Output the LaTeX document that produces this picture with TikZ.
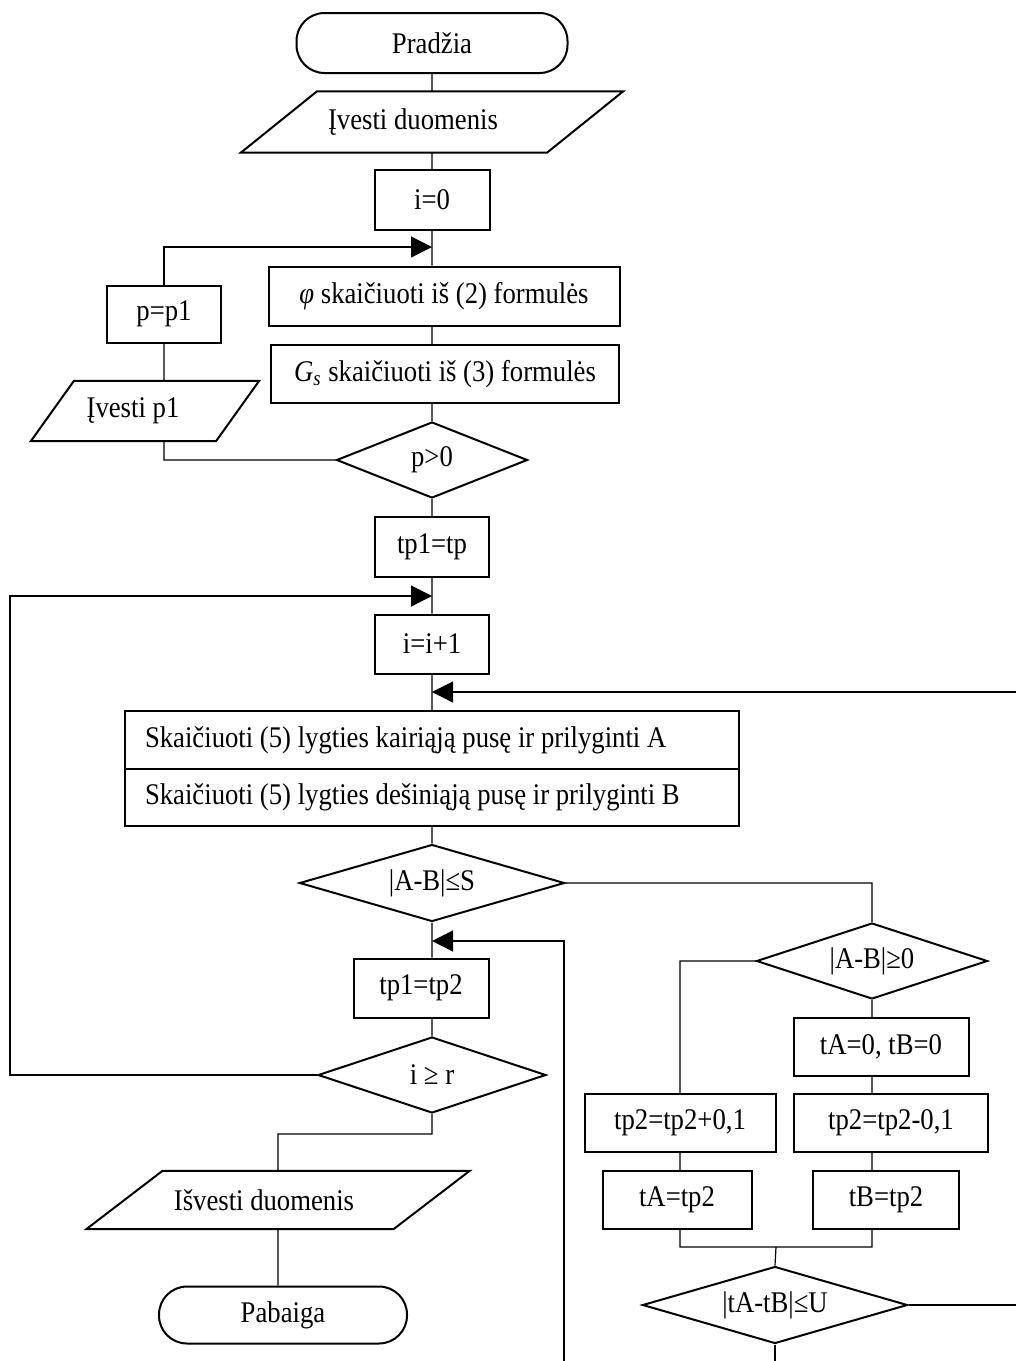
\documentclass[tikz,border=0pt]{standalone}
\usepackage{fontspec}
\setmainfont{Liberation Serif}[FakeStretch=0.89]
\usetikzlibrary{shapes.geometric, arrows.meta}
\tikzset{every picture/.style={line width=0.6pt}}

\begin{document}
\begin{tikzpicture}[x=0.5pt, y=-0.5pt, font=\fontsize{15}{18}\selectfont,
        box/.style={draw, line width=1pt, inner sep=2pt},
        term/.style={box, rounded corners=14pt},
        dec/.style={box, diamond, aspect=3.4, inner sep=0pt},
        io/.style={inner sep=0pt},
        arr/.style={-{Triangle[length=10.5pt,width=10.5pt]}}]
        \clip (0,0) rectangle (1016,1361);
        \fill[white] (0,0) rectangle (1016,1361);
        % main column
        \node[term, minimum width=135.5pt, minimum height=30pt] (start) at (432,43) {Pradžia};
        \node[io, minimum width=152.5pt, minimum height=30pt] (inp) at (432,122) {Įvesti duomenis\hspace*{19pt}};
        \node[box, minimum width=57.5pt, minimum height=30pt] (i0) at (432,200) {i=0};
        \node[box, minimum width=175.5pt, minimum height=29.5pt] (phi) at (444,296) {\textit{φ} skaičiuoti iš (2) formulės};
        \node[box, minimum width=174pt, minimum height=29pt] (gs) at (445,374) {\textit{G}\textsubscript{\textit{s}} skaičiuoti iš (3) formulės};
        \node[dec, minimum width=95.5pt, minimum height=38pt] (p0) at (432,460) {p>0};
        \node[box, minimum width=57pt, minimum height=28.5pt] (pp1) at (164,314) {p=p1};
        \node[io, minimum width=92pt, minimum height=29.5pt] (inp1) at (145,411) {Įvesti p1\hspace*{12pt}};
        \node[box, minimum width=57pt, minimum height=30pt] (tp) at (432,547) {tp1=tp};
        \node[box, minimum width=57pt, minimum height=29.5pt] (ii) at (432,644) {i=i+1};
        \node[box, inner xsep=10pt, minimum height=29pt] (kair) at (432,740) {\makebox[287pt][l]{Skaičiuoti (5) lygties kairiąją pusę ir prilyginti A}};
        \node[box, inner xsep=10pt, minimum height=28.5pt] (des) at (432,797.5) {\makebox[287pt][l]{Skaičiuoti (5) lygties dešiniąją pusę ir prilyginti B}};
        \node[dec, minimum width=132.5pt, minimum height=38.5pt] (ab) at (432,883) {|A-B|≤S};
        \node[box, minimum width=67.5pt, minimum height=29.5pt] (tp12) at (421,988) {tp1=tp2};
        \node[dec, minimum width=114pt, minimum height=38pt] (ir) at (432,1075) {i ≥ r};
        \node[io, minimum width=153pt, minimum height=28.5pt] (out) at (278,1200) {Išvesti duomenis\hspace*{14pt}};
        \node[term, minimum width=124pt, minimum height=28.5pt] (end) at (283,1315) {Pabaiga};
        % right branch
        \node[dec, minimum width=115.5pt, minimum height=38pt] (ab0) at (872,961) {|A-B|≥0};
        \node[box, minimum width=87.5pt, minimum height=29pt] (tab0) at (881,1047) {tA=0, tB=0};
        \node[box, minimum width=95.5pt, minimum height=29pt] (tpp) at (680,1123) {tp2=tp2+0,1};
        \node[box, minimum width=97pt, minimum height=29pt] (tpm) at (891,1123) {tp2=tp2-0,1};
        \node[box, minimum width=74.5pt, minimum height=29pt] (ta) at (677,1200) {tA=tp2};
        \node[box, minimum width=73pt, minimum height=29pt] (tb) at (886,1200) {tB=tp2};
        \node[dec, minimum width=132.5pt, minimum height=38.5pt] (u) at (775,1305) {|tA-tB|≤U};
        % parallelograms
        \foreach \n/\s in {inp/19pt, inp1/10.75pt, out/19pt}
            \draw[line width=1pt] ([xshift=-\s]\n.south west) -- ([xshift=\s]\n.north west)
                -- ([xshift=\s]\n.north east) -- ([xshift=-\s]\n.south east) -- cycle;
        % junctions
        \coordinate (j1) at (432,247);
        \coordinate (j2) at (432,596);
        \coordinate (j3) at (432,692);
        \coordinate (j4) at (432,941);
        \coordinate (lp) at (10,596);
        \coordinate (rp) at (1040,692);
        \coordinate (mg) at (776,1247);
        \coordinate (rb) at (564,1400);
        \draw
            (start) -- (inp)
            (inp) -- (i0)
            (i0.south) -- (i0 |- phi.north)
            (i0 |- phi.south) -- (i0 |- gs.north)
            (i0 |- gs.south) -- (p0.north)
            (p0) -- (tp)
            (tp) -- (ii)
            (ii) -- (kair)
            (des) -- (ab)
            (ab.south) -- (ab.south |- tp12.north)
            (ab.south |- tp12.south) -- (ir.north)
            (ir.south) -- ++(0,20) -| (out.north)
            (out.south) -- (out.south |- end.north)
            (p0.west) -| (pp1 |- inp1.south)
            (pp1 |- inp1.north) -- (pp1)
            (ab.east) -| (ab0.north)
            (ab0.west) -| (tpp.north)
            (ab0.south) -- (ab0 |- tab0.north)
            (ab0 |- tab0.south) -- (ab0 |- tpm.north)
            (tpp.south) -- (tpp.south |- ta.north)
            (ab0 |- tpm.south) -- (ab0 |- tb.north)
            (tpp.south |- ta.south) |- (mg) -- (u.north)
            (ab0 |- tb.south) |- (mg)
            ;
        \draw[arr] (pp1.north) |- (j1);
        \draw[arr] (ir.west) -| (lp) -- (j2);
        \draw[arr] (u.east) -| (rp) -- (j3);
        \draw[arr] (u.south) |- (rb) |- (j4);
\end{tikzpicture}
\end{document}
